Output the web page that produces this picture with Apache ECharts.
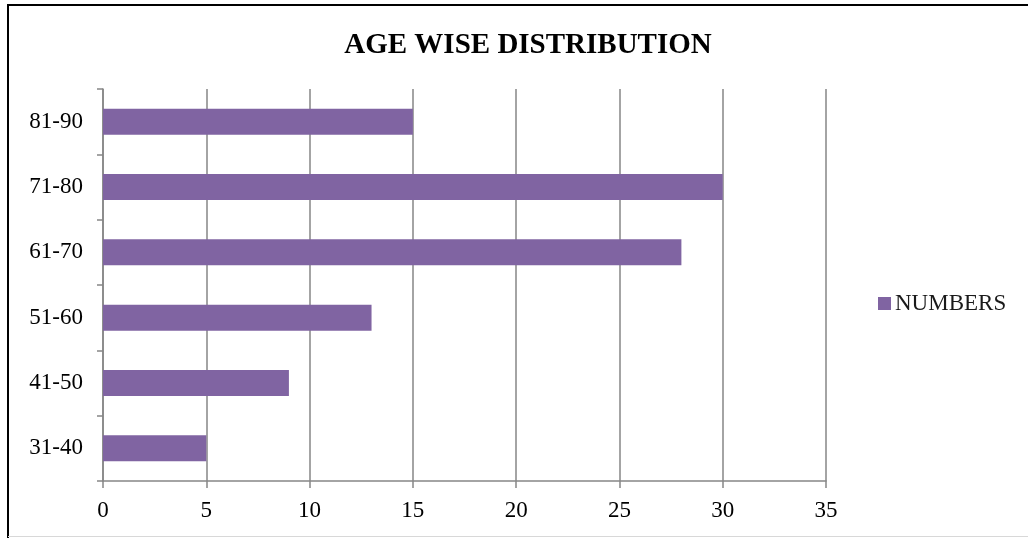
<!DOCTYPE html>
<html><head><meta charset="utf-8">
<script src="https://cdn.jsdelivr.net/npm/echarts@6/dist/echarts.min.js"></script>
<style>html,body{margin:0;padding:0;background:#fff}#c{width:1028px;height:538px}</style>
</head><body><div id="c"></div>
<script>
const categories = ['31-40','41-50','51-60','61-70','71-80','81-90'];
const numbers = [5, 9, 13, 28, 30, 15];
const seriesName = 'NUMBERS';
const titleText = 'AGE WISE DISTRIBUTION';

const chart = echarts.init(document.getElementById('c'));
const serif = '"Liberation Serif", "Times New Roman", serif';
chart.setOption({
  animation: false,
  backgroundColor: '#fff',
  title: {
    text: titleText, left: 523, top: 26, textAlign: 'center',
    textStyle: {fontFamily: serif, fontWeight: 'bold', fontSize: 29, color: '#000'}
  },
  legend: {
    data: [seriesName], left: 873, top: 287, icon: 'rect', itemWidth: 13, itemHeight: 13, itemGap: 4,
    textStyle: {fontFamily: serif, fontSize: 23, color: '#1a1a1a', padding: [0,0,0,-1]}
  },
  grid: {left: 103, right: 202, top: 89, bottom: 57, containLabel: false},
  xAxis: {
    type: 'value', min: 0, max: 35, interval: 5,
    axisLine: {show: true, lineStyle: {color: '#868686', width: 1.5}},
    axisTick: {show: true, length: 7, lineStyle: {color: '#868686', width: 1.5}},
    axisLabel: {fontFamily: serif, fontSize: 23, color: '#000', margin: 18},
    splitLine: {show: true, lineStyle: {color: '#868686', width: 1.5}}
  },
  yAxis: {
    type: 'category', data: categories,
    axisLine: {show: true, lineStyle: {color: '#868686', width: 1.5}},
    axisTick: {show: true, inside: false, length: 6, lineStyle: {color: '#868686', width: 1.5}},
    axisLabel: {fontFamily: serif, fontSize: 23, color: '#000', margin: 20},
    splitLine: {show: false}
  },
  series: [{
    name: seriesName, type: 'bar', data: numbers, barWidth: 26,
    itemStyle: {color: '#8064A2'}
  }],
  graphic: [
    {type: 'rect', shape: {x: 0, y: 0, width: 1028, height: 4}, style: {fill: '#fff'}},
    {type: 'line', shape: {x1: 7, y1: 5, x2: 1028, y2: 5}, style: {stroke: '#000', lineWidth: 2}},
    {type: 'line', shape: {x1: 8, y1: 5, x2: 8, y2: 538}, style: {stroke: '#000', lineWidth: 2}},
    {type: 'line', shape: {x1: 8, y1: 536.5, x2: 1028, y2: 536.5}, style: {stroke: '#d8d8d8', lineWidth: 1}}
  ]
});
</script></body></html>
